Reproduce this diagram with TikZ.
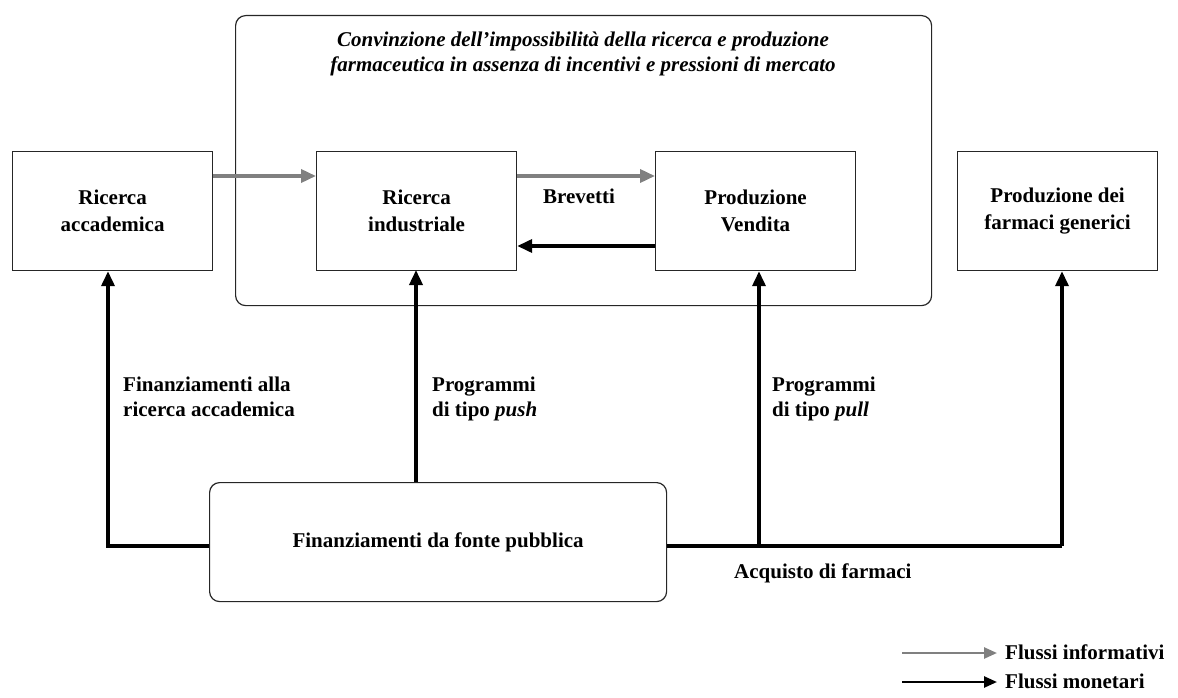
\documentclass[tikz,border=0pt]{standalone}
\usepackage{fontspec}
\setmainfont{Liberation Serif}
\usetikzlibrary{arrows.meta}
\begin{document}
\begin{tikzpicture}[x=1pt,y=-1pt,
  box/.style={draw=black!85,line width=1.2pt,minimum width=200pt,minimum height=119pt,anchor=north west,inner sep=0pt},
  rbox/.style={draw=black!85,line width=1.2pt,rounded corners=10pt,anchor=north west,inner sep=0pt},
  lbl/.style={font=\fontsize{21}{27}\selectfont\bfseries,align=center},
  txt/.style={font=\fontsize{21}{25}\selectfont\bfseries,align=left,anchor=north west,inner sep=0pt},
  info/.style={draw=gray,line width=3.5pt,-{Triangle[length=15pt,width=13pt]}},
  money/.style={draw=black,line width=3.5pt,-{Triangle[length=15pt,width=13pt]}},
  mline/.style={draw=black,line width=3.5pt}]
\useasboundingbox (0,0) rectangle (1178,698);
% outer rounded container
\node[rbox,minimum width=696pt,minimum height=290pt] (outer) at (235,15) {};
\node[font=\fontsize{21}{25}\selectfont\itshape\bfseries,align=center] (title) at (583,54)
  {Convinzione dell'impossibilità della ricerca e produzione\\farmaceutica in assenza di incentivi e pressioni di mercato};
% boxes
\node[box] (acc) at (12,151) {};
\node[lbl] at (acc.center) {Ricerca\\accademica};
\node[box] (ind) at (316,151) {};
\node[lbl] at (ind.center) {Ricerca\\industriale};
\node[box] (prod) at (655,151) {};
\node[lbl] at (prod.center) {Produzione\\Vendita};
\node[box] (gen) at (957,151) {};
\node[lbl] at (gen.center) {Produzione dei\\farmaci generici};
\node[rbox,minimum width=457pt,minimum height=119pt] (pub) at (209,482) {};
\node[lbl] at (pub.center) {Finanziamenti da fonte pubblica};
% informational flows
\draw[info] (acc.east |- 0,176) -- (ind.west |- 0,176);
\draw[info] (ind.east |- 0,176) -- (prod.west |- 0,176);
\node[lbl] (brev) at (579,196) {Brevetti};
% money flows
\draw[money] (prod.west |- 0,246) -- (ind.east |- 0,246);
\coordinate (pl) at (108,546);
\coordinate (pr) at (1062,546);
\coordinate (pm) at (759,546);
\draw[money] (pub.west |- pl) -- (pl) -- (pl |- acc.south);
\draw[money] (pub.north -| 416,0) -- (416,270);
\draw[mline] (pub.east |- pr) -- (pr);
\draw[money] (pr) -- (pr |- gen.south);
\draw[money] (pm) -- (pm |- prod.south);
% labels
\node[txt] (l1) at (123,377) {Finanziamenti alla\\ricerca accademica};
\node[txt] (l2) at (432,377) {Programmi\\di tipo \textit{push}};
\node[txt] (l3) at (772,377) {Programmi\\di tipo \textit{pull}};
\node[txt] (l4) at (734,564) {Acquisto di farmaci};
% legend
\coordinate (g1) at (902,653);
\coordinate (g2) at (997,653);
\coordinate (k1) at (902,682);
\coordinate (k2) at (997,682);
\draw[info,line width=2.5pt,-{Triangle[length=13pt,width=11pt]}] (g1) -- (g2);
\draw[money,line width=2.5pt,-{Triangle[length=13pt,width=11pt]}] (k1) -- (k2);
\node[txt,anchor=west] (lg1) at (1005,652) {Flussi informativi};
\node[txt,anchor=west] (lg2) at (1005,681) {Flussi monetari};
\end{tikzpicture}
\end{document}
